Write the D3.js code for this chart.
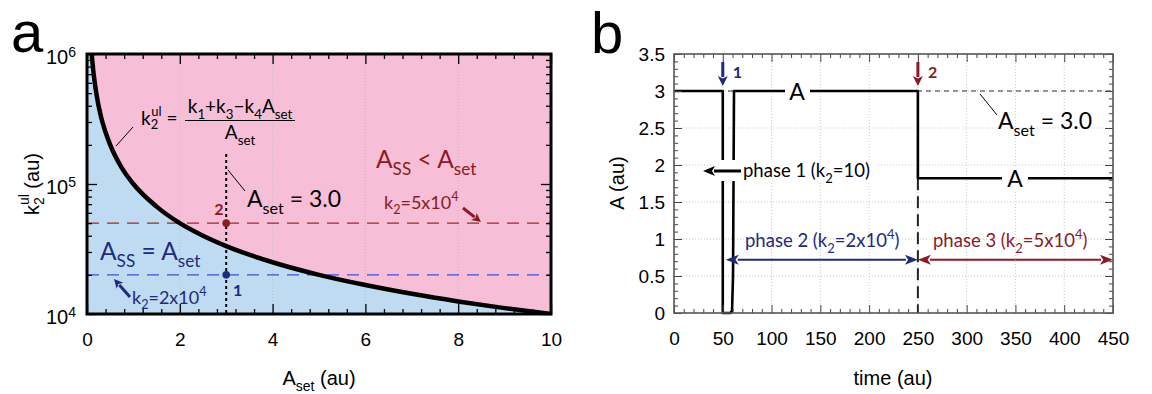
<!DOCTYPE html>
<html><head><meta charset="utf-8">
<script src="https://cdn.jsdelivr.net/npm/d3@7"></script>
<style>body{margin:0;background:#fff}svg{display:block}</style>
</head><body><svg id="c" width="1152" height="394"></svg>
<script>
// ---------- data ----------
const aSetPts = [0.1,0.15,0.2,0.3,0.4,0.5,0.75,1,1.5,2,2.5,3,4,5,6,7,8,9,10];
const k2ulPts = [1e6,6.7e5,5e5,3.3e5,2.5e5,2e5,1.33e5,1e5,6.7e4,5e4,4e4,3.33e4,2.5e4,2e4,1.67e4,1.43e4,1.25e4,1.11e4,1e4];
const k2Levels = [2e4, 5e4];
const aSetMark = 3;
const aSetDottedTop = 1.7e5;
const aSetTicks = [0,2,4,6,8,10];
const k2TickLabels = [1e4,1e5,1e6];
const timePts = [0,50,50,58,59.5,60.5,61.5,250,250,450];
const aPts    = [3,3,0,0,0.03,0.5,3,3,1.82,1.82];
const aSetLevel = 3.0;
const phaseStarts = [50,250];
const phaseEnd = 450;
const timeTicks = [0,50,100,150,200,250,300,350,400,450];
const aTicks = [0,0.5,1,1.5,2,2.5,3,3.5];

// ---------- styles ----------
const NAVY = "#1e2a7c", DRED = "#8c1a24", BLUE_D = "#3c50dc", RED_D = "#9e2a2c";
const PINK = "#f6bfd7", LBLUE = "#bfdbf2";
const AXF = "Liberation Sans, Arial, sans-serif";
const ANF = "Lato, 'Open Sans', sans-serif";

const svg = d3.select("#c");

function rich(g, x, y, parts, o) {
  const t = g.append("text").attr("x", x).attr("y", y)
    .attr("font-family", o.family || ANF).attr("font-size", o.size)
    .attr("fill", o.color || "#000").attr("text-anchor", o.anchor || "start");
  if (o.weight) t.attr("font-weight", o.weight);
  let cur = 0;
  parts.forEach(([s, k]) => {
    let target = k === "sub" ? o.size*0.3 : k === "sup" ? -o.size*0.42 : 0;
    const ts = t.append("tspan").attr("dy", target - cur).text(s);
    if (k !== "n") ts.attr("font-size", o.size*0.7);
    cur = target;
  });
  return t;
}
function arrow(g, x1, y1, x2, y2, color, w, hl, hw) {
  const dx = x2-x1, dy = y2-y1, L = Math.hypot(dx, dy), ux = dx/L, uy = dy/L;
  const bx = x2 - ux*hl, by = y2 - uy*hl;
  g.append("line").attr("x1", x1).attr("y1", y1).attr("x2", bx+ux).attr("y2", by+uy)
    .attr("stroke", color).attr("stroke-width", w);
  g.append("path").attr("d", `M${x2},${y2}L${bx - uy*hw/2},${by + ux*hw/2}L${bx + ux*hl*0.25},${by + uy*hl*0.25}L${bx + uy*hw/2},${by - ux*hw/2}Z`)
    .attr("fill", color);
}

// ================= PANEL A =================
{
  const L = 87, R = 551, T = 54, B = 314;
  const x = d3.scaleLinear([0,10],[L,R]);
  const y = d3.scaleLog([1e4,1e6],[B,T]);
  const g = svg.append("g");
  g.append("clipPath").attr("id","clipA").append("rect").attr("x",L).attr("y",T).attr("width",R-L).attr("height",B-T);
  const pts = aSetPts.map((a,i)=>[a,k2ulPts[i]]);
  const cg = g.append("g").attr("clip-path","url(#clipA)");
  cg.append("rect").attr("x",L).attr("y",T).attr("width",R-L).attr("height",B-T).attr("fill",PINK);
  const below = d3.area().x(d=>x(d[0])).y0(B+5).y1(d=>y(d[1])).curve(d3.curveMonotoneX);
  cg.append("path").attr("d", below([[0,2e6],...pts])).attr("fill",LBLUE);
  [2,4,6,8].forEach(v => cg.append("line").attr("x1",x(v)).attr("x2",x(v)).attr("y1",T).attr("y2",B)
    .attr("stroke","#b9b9b9").attr("stroke-width",0.8).attr("stroke-dasharray","1,2"));
  cg.append("line").attr("x1",L).attr("x2",R).attr("y1",y(k2Levels[1])).attr("y2",y(k2Levels[1]))
    .attr("stroke",RED_D).attr("stroke-width",1.4).attr("stroke-dasharray","12,8");
  cg.append("line").attr("x1",L).attr("x2",R).attr("y1",y(k2Levels[0])).attr("y2",y(k2Levels[0]))
    .attr("stroke",BLUE_D).attr("stroke-width",1.4).attr("stroke-dasharray","12,8");
  cg.append("path").attr("d", d3.line().x(d=>x(d[0])).y(d=>y(d[1])).curve(d3.curveMonotoneX)(pts))
    .attr("fill","none").attr("stroke","#000").attr("stroke-width",4.5);
  cg.append("line").attr("x1",x(aSetMark)).attr("x2",x(aSetMark)).attr("y1",y(aSetDottedTop)).attr("y2",B)
    .attr("stroke","#000").attr("stroke-width",2).attr("stroke-dasharray","3,3");
  cg.append("circle").attr("cx",x(aSetMark)).attr("cy",y(k2Levels[1])).attr("r",3.8).attr("fill",DRED);
  cg.append("circle").attr("cx",x(aSetMark)).attr("cy",y(k2Levels[0])).attr("r",3.8).attr("fill",NAVY);

  const minorX = d3.range(0,10.001,0.4).filter(v=>Math.abs(v/2-Math.round(v/2))>1e-6);
  const minorY = [2,3,4,5,6,7,8,9].flatMap(m=>[m*1e4,m*1e5]);
  const ax = (axis, tr) => g.append("g").attr("transform",tr).call(axis)
     .call(s=>s.select(".domain").remove()).call(s=>s.selectAll("line").attr("stroke","#000").attr("stroke-width",1.3));
  ax(d3.axisBottom(x).tickValues(aSetTicks).tickSizeInner(-10).tickSizeOuter(0).tickPadding(19), `translate(0,${B})`)
    .selectAll("text").attr("font-size",19).attr("font-family",AXF).attr("fill","#000");
  ax(d3.axisBottom(x).tickValues(minorX).tickSize(-5).tickFormat(""), `translate(0,${B})`);
  ax(d3.axisTop(x).tickValues(aSetTicks).tickSize(-10).tickFormat(""), `translate(0,${T})`);
  ax(d3.axisTop(x).tickValues(minorX).tickSize(-5).tickFormat(""), `translate(0,${T})`);
  const yl = ax(d3.axisLeft(y).tickValues(k2TickLabels).tickSizeInner(-10).tickSizeOuter(0).tickPadding(11).tickFormat(""), `translate(${L},0)`);
  yl.selectAll(".tick text").each(function(d){
    const t = d3.select(this).attr("font-size",20).attr("font-family",AXF).attr("fill","#000").attr("dy","0.45em");
    t.append("tspan").text("10");
    t.append("tspan").attr("dy","-0.5em").attr("font-size",14).text(Math.round(Math.log10(d)));
  });
  ax(d3.axisLeft(y).tickValues(minorY).tickSize(-5).tickFormat(""), `translate(${L},0)`);
  ax(d3.axisRight(y).tickValues(k2TickLabels).tickSize(-10).tickFormat(""), `translate(${R},0)`);
  ax(d3.axisRight(y).tickValues(minorY).tickSize(-5).tickFormat(""), `translate(${R},0)`);
  g.append("rect").attr("x",L).attr("y",T).attr("width",R-L).attr("height",B-T)
    .attr("fill","none").attr("stroke","#000").attr("stroke-width",3);

  g.append("text").attr("x",11).attr("y",52).attr("font-family",AXF).attr("font-size",58).text("a");
  rich(g, 319, 385, [["A","n"],["set","sub"],[" (au)","n"]], {size:20, family:AXF, anchor:"middle"});
  const yt = g.append("g").attr("transform","translate(39,184) rotate(-90)");
  {
    const t = yt.append("text").attr("text-anchor","middle").attr("font-family",AXF).attr("font-size",20);
    t.append("tspan").text("k");
    t.append("tspan").attr("font-size",14).attr("dy",5).text("2");
    t.append("tspan").attr("font-size",14).attr("dx",-8).attr("dy",-15).text("ul");
    t.append("tspan").attr("dy",10).text(" (au)");
  }
  // formula
  g.append("line").attr("x1",133).attr("y1",127).attr("x2",116).attr("y2",146).attr("stroke","#000").attr("stroke-width",1);
  {
    const t = g.append("text").attr("x",141).attr("y",125).attr("font-family",ANF).attr("font-size",19);
    t.append("tspan").text("k");
    t.append("tspan").attr("font-size",13).attr("dy",4).text("2");
    t.append("tspan").attr("font-size",13).attr("dx",-7).attr("dy",-13).text("ul");
    t.append("tspan").attr("dy",9).text(" = ");
  }
  rich(g, 240, 113, [["k","n"],["1","sub"],["+k","n"],["3","sub"],["−k","n"],["4","sub"],["A","n"],["set","sub"]], {size:19, anchor:"middle"});
  g.append("line").attr("x1",185).attr("x2",295).attr("y1",120.5).attr("y2",120.5).attr("stroke","#000").attr("stroke-width",1.2);
  rich(g, 240, 139, [["A","n"],["set","sub"]], {size:19, anchor:"middle"});
  // Aset = 3.0
  g.append("line").attr("x1",228).attr("y1",170).attr("x2",245).attr("y2",191).attr("stroke","#000").attr("stroke-width",1);
  rich(g, 247, 207, [["A","n"],["set","sub"],[" = 3.0","n"]], {size:23});
  // region labels
  rich(g, 376, 168, [["A","n"],["SS","sub"],["  <  A","n"],["set","sub"]], {size:24.5, color:DRED});
  rich(g, 100, 260, [["A","n"],["SS","sub"],["  =  A","n"],["set","sub"]], {size:24.5, color:NAVY});
  rich(g, 384, 209, [["k","n"],["2","sub"],["=5x10","n"],["4","sup"]], {size:18, color:DRED});
  arrow(g, 463, 208, 481, 222, DRED, 3, 9, 9);
  rich(g, 132, 304, [["k","n"],["2","sub"],["=2x10","n"],["4","sup"]], {size:18, color:NAVY});
  arrow(g, 130, 297, 114, 279, NAVY, 3, 9, 9);
  g.append("text").attr("x",219).attr("y",215).attr("text-anchor","middle").attr("font-family",ANF).attr("font-weight","bold").attr("font-size",16).attr("fill",DRED).text("2");
  g.append("text").attr("x",233).attr("y",296).attr("font-family",ANF).attr("font-weight","bold").attr("font-size",16).attr("fill",NAVY).text("1");
}

// ================= PANEL B =================
{
  const L = 674, R = 1113, T = 54, B = 313;
  const x = d3.scaleLinear([0,450],[L,R]);
  const y = d3.scaleLinear([0,3.5],[B,T]);
  const g = svg.append("g");
  timeTicks.slice(1,-1).forEach(v => g.append("line").attr("x1",x(v)).attr("x2",x(v)).attr("y1",T).attr("y2",B)
    .attr("stroke","#bdbdbd").attr("stroke-width",0.8).attr("stroke-dasharray","1,2"));
  aTicks.slice(1,-1).forEach(v => g.append("line").attr("y1",y(v)).attr("y2",y(v)).attr("x1",L).attr("x2",R)
    .attr("stroke","#bdbdbd").attr("stroke-width",0.8).attr("stroke-dasharray","1,2"));
  g.append("line").attr("x1",x(0)).attr("x2",x(450)).attr("y1",y(aSetLevel)).attr("y2",y(aSetLevel))
    .attr("stroke","#333").attr("stroke-width",1.2).attr("stroke-dasharray","5,4");
  g.append("line").attr("x1",x(phaseStarts[1])).attr("x2",x(phaseStarts[1])).attr("y1",y(1.82)).attr("y2",B)
    .attr("stroke","#222").attr("stroke-width",2).attr("stroke-dasharray","12,6");
  const pts = timePts.map((t,i)=>[t,aPts[i]]);
  g.append("path").attr("d", d3.line().x(d=>x(d[0])).y(d=>y(d[1]))(pts))
    .attr("fill","none").attr("stroke","#000").attr("stroke-width",2.6).attr("stroke-linejoin","round");
  g.append("rect").attr("x",785).attr("y",80).attr("width",25).attr("height",22).attr("fill","#fff");
  g.append("rect").attr("x",1002).attr("y",168).attr("width",26).attr("height",22).attr("fill","#fff");
  g.append("rect").attr("x",716).attr("y",160).attr("width",162).attr("height",21).attr("fill","#fff");
  g.append("text").attr("x",797).attr("y",100).attr("text-anchor","middle").attr("font-family",ANF).attr("font-size",23).text("A");
  g.append("text").attr("x",1015).attr("y",187).attr("text-anchor","middle").attr("font-family",ANF).attr("font-size",23).text("A");

  const minorT = d3.range(0,450.1,10).filter(v=>v%50!==0);
  const minorA = d3.range(0,3.501,0.1).filter(v=>Math.abs(v*2-Math.round(v*2))>1e-6);
  const ax = (axis, tr) => g.append("g").attr("transform",tr).call(axis)
     .call(s=>s.select(".domain").remove()).call(s=>s.selectAll("line").attr("stroke","#444").attr("stroke-width",1));
  ax(d3.axisBottom(x).tickValues(timeTicks).tickSizeInner(-8).tickSizeOuter(0).tickPadding(19).tickFormat(d3.format("d")), `translate(0,${B})`)
    .selectAll("text").attr("font-size",19).attr("font-family",AXF).attr("fill","#000");
  ax(d3.axisBottom(x).tickValues(minorT).tickSize(-4).tickFormat(""), `translate(0,${B})`);
  ax(d3.axisTop(x).tickValues(timeTicks).tickSize(-8).tickFormat(""), `translate(0,${T})`);
  ax(d3.axisTop(x).tickValues(minorT).tickSize(-4).tickFormat(""), `translate(0,${T})`);
  ax(d3.axisLeft(y).tickValues(aTicks).tickSizeInner(-8).tickSizeOuter(0).tickPadding(9).tickFormat(d=>d3.format("")(d)), `translate(${L},0)`)
    .selectAll("text").attr("font-size",19).attr("font-family",AXF).attr("fill","#000");
  ax(d3.axisLeft(y).tickValues(minorA).tickSize(-4).tickFormat(""), `translate(${L},0)`);
  ax(d3.axisRight(y).tickValues(aTicks).tickSize(-8).tickFormat(""), `translate(${R},0)`);
  ax(d3.axisRight(y).tickValues(minorA).tickSize(-4).tickFormat(""), `translate(${R},0)`);
  g.append("rect").attr("x",L).attr("y",T).attr("width",R-L).attr("height",B-T)
    .attr("fill","none").attr("stroke","#555").attr("stroke-width",1.6);

  g.append("text").attr("x",591).attr("y",53).attr("font-family",AXF).attr("font-size",58).text("b");
  g.append("text").attr("x",893).attr("y",385).attr("text-anchor","middle").attr("font-family",AXF).attr("font-size",20).text("time (au)");
  g.append("text").attr("transform","translate(624,183) rotate(-90)").attr("text-anchor","middle").attr("font-family",AXF).attr("font-size",20).text("A (au)");

  arrow(g, x(phaseStarts[0]), 62, x(phaseStarts[0]), 86, NAVY, 3, 10, 10);
  g.append("text").attr("x",x(phaseStarts[0])+10).attr("y",78).attr("font-family",ANF).attr("font-weight","bold").attr("font-size",16).attr("fill",NAVY).text("1");
  arrow(g, x(phaseStarts[1]), 62, x(phaseStarts[1]), 86, DRED, 3, 10, 10);
  g.append("text").attr("x",x(phaseStarts[1])+10).attr("y",78).attr("font-family",ANF).attr("font-weight","bold").attr("font-size",16).attr("fill",DRED).text("2");

  g.append("line").attr("x1",980).attr("y1",94).attr("x2",997).attr("y2",115).attr("stroke","#000").attr("stroke-width",1);
  rich(g, 998, 129, [["A","n"],["set","sub"],[" = 3.0","n"]], {size:23});

  arrow(g, 741, 171, 703, 171, "#000", 3, 12, 10);
  rich(g, 743, 177, [["phase 1 (k","n"],["2","sub"],["=10)","n"]], {size:18.5});
  const yArr = y(0.72);
  const dbl = (x1,x2,c) => { arrow(g,(x1+x2)/2,yArr,x1,yArr,c,2,13,10); arrow(g,(x1+x2)/2,yArr,x2,yArr,c,2,13,10); };
  dbl(x(phaseStarts[0])+3, x(phaseStarts[1]), NAVY);
  dbl(x(phaseStarts[1]), x(phaseEnd), DRED);
  rich(g, 745, 247, [["phase 2 (k","n"],["2","sub"],["=2x10","n"],["4","sup"],[")","n"]], {size:18.5, color:NAVY});
  rich(g, 933, 247, [["phase 3 (k","n"],["2","sub"],["=5x10","n"],["4","sup"],[")","n"]], {size:18.5, color:DRED});
}
</script></body></html>
